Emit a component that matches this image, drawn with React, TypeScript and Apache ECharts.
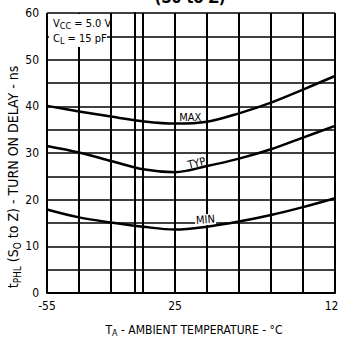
import React, { useEffect, useRef } from "react";
import * as echarts from "echarts";

const temps = [-55, -35, -15, 5, 25, 45, 65, 85, 105, 125];
const maxDelay = [40.1, 38.9, 37.8, 36.8, 36.3, 36.7, 38.5, 40.8, 43.6, 46.5];
const typDelay = [31.5, 30.1, 28.3, 26.5, 25.9, 27.2, 28.8, 30.8, 33.3, 35.8];
const minDelay = [17.9, 16.2, 15.1, 14.2, 13.6, 14.2, 15.3, 16.7, 18.4, 20.3];
const xTickLabels = [-55, 25, 125];
const curveLabels = [
  { name: "MAX", t: 34.5, v: 37.6, rot: 0 },
  { name: "TYP", t: 38.5, v: 27.8, rot: 14 },
  { name: "MIN", t: 44, v: 15.7, rot: 4 },
];

const FONT = "'DejaVu Sans Condensed', 'Liberation Sans Narrow', 'Liberation Sans', sans-serif";

export default function App() {
  const ref = useRef<HTMLDivElement>(null);
  useEffect(() => {
    if (!ref.current) return;
    const chart = echarts.init(ref.current, null, { renderer: "svg" });
    const mk = (vals: number[]) => temps.map((t, i) => [t, vals[i]]);
    const lineSeries = (name: string, vals: number[]) => ({
      name,
      type: "line",
      data: mk(vals),
      smooth: 0.35,
      showSymbol: false,
      lineStyle: { color: "#000", width: 2.5 },
      z: 5,
    });
    chart.setOption({
      animation: false,
      backgroundColor: "#fff",
      grid: {
        left: 47,
        top: 13,
        width: 288,
        height: 280,
        containLabel: false,
        outerBoundsMode: "none",
      },
      xAxis: {
        type: "value",
        min: -55,
        max: 125,
        axisLine: { show: true, lineStyle: { color: "#000", width: 2 } },
        axisTick: { show: false },
        splitLine: { show: false },
        axisLabel: {
          customValues: xTickLabels,
          color: "#000",
          fontFamily: FONT,
          fontSize: 12,
          margin: 7,
        },
        name: "{n|T}{s|A}{n| - AMBIENT TEMPERATURE - °C}",
        nameLocation: "middle",
        nameGap: 29,
        nameTextStyle: {
          padding: [0, 0, 0, 6],
          rich: {
            n: { fontFamily: FONT, fontSize: 12, color: "#000" },
            s: { fontFamily: FONT, fontSize: 9, color: "#000", padding: [6, 0, 0, 0] },
          },
        },
      },
      yAxis: {
        type: "value",
        min: 0,
        max: 60,
        interval: 5,
        axisLine: { show: true, lineStyle: { color: "#000", width: 2 } },
        axisTick: { show: false },
        splitLine: { show: true, lineStyle: { color: "#000", width: 1.5 } },
        axisLabel: {
          color: "#000",
          fontFamily: FONT,
          fontSize: 12,
          margin: 8,
          formatter: (v: number) => (v % 10 === 0 ? String(v) : ""),
        },
      },
      series: [
        {
          ...lineSeries("MAX", maxDelay),
          markLine: {
            silent: true,
            symbol: ["none", "none"],
            label: { show: false },
            lineStyle: { color: "#000", width: 2, type: "solid" },
            z: 1,
            data: temps.map((t) => ({ xAxis: t })),
          },
        },
        lineSeries("TYP", typDelay),
        {
          ...lineSeries("MIN", minDelay),
          markPoint: {
            symbol: "rect",
            symbolSize: 0,
            silent: true,
            data: curveLabels.map((c) => ({
              coord: [c.t, c.v],
              label: {
                show: true,
                formatter: c.name,
                position: "inside",
                rotate: c.rot,
                color: "#000",
                fontFamily: FONT,
                fontSize: 11,
                backgroundColor: c.name === "MIN" ? "#fff" : "transparent",
                padding: [0, 1],
              },
            })),
          },
        },
      ],
      graphic: [
        {
          type: "text",
          x: 13,
          y: 177,
          rotation: Math.PI / 2,
          z: 11,
          style: {
            text: "{n|t}{s|PHL}{n| (S}{s|O}{n| to Z) - TURN ON DELAY - ns}",
            align: "center",
            verticalAlign: "middle",
            rich: {
              n: { fontFamily: FONT, fontSize: 14, fill: "#000" },
              s: { fontFamily: FONT, fontSize: 10, fill: "#000", padding: [8, 0, 0, 0] },
            },
          },
        },
        {
          type: "rect",
          shape: { x: 49, y: 14, width: 58, height: 33 },
          style: { fill: "#fff" },
          z: 10,
        },
        {
          type: "text",
          x: 53,
          y: 16,
          z: 11,
          style: {
            text: "{n|V}{s|CC}{n| = 5.0 V}",
            rich: {
              n: { fontFamily: FONT, fontSize: 11, fill: "#000" },
              s: { fontFamily: FONT, fontSize: 9, fill: "#000", padding: [5, 0, 0, 0] },
            },
          },
        },
        {
          type: "text",
          x: 53,
          y: 31,
          z: 11,
          style: {
            text: "{n|C}{s|L}{n| = 15 pF}",
            rich: {
              n: { fontFamily: FONT, fontSize: 11, fill: "#000" },
              s: { fontFamily: FONT, fontSize: 9, fill: "#000", padding: [5, 0, 0, 0] },
            },
          },
        },
        {
          type: "text",
          x: 190,
          y: -11,
          z: 11,
          style: {
            text: "(S0 to Z)",
            align: "center",
            fontFamily: FONT,
            fontWeight: "bold",
            fontSize: 16,
            fill: "#000",
          },
        },
      ],
    });
    return () => chart.dispose();
  }, []);
  return (
    <div
      ref={ref}
      style={{ position: "absolute", left: 0, top: 0, width: 339, height: 341 }}
    />
  );
}
